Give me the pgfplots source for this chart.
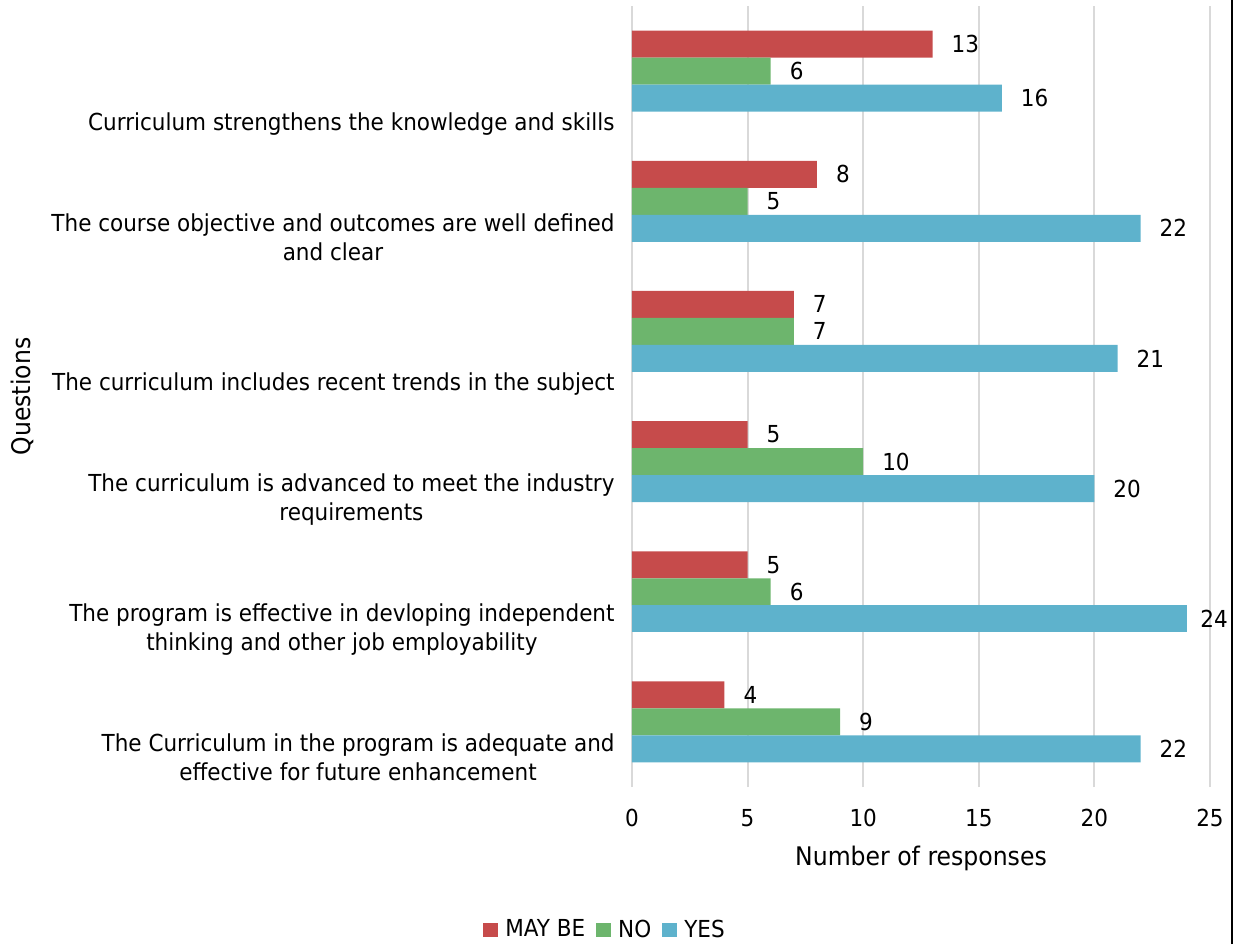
\documentclass[border=0pt]{standalone}
\usepackage{fontspec}
\setmainfont{DejaVu Sans}[FakeStretch=0.92]
\usepackage{pgfplots}
\pgfplotsset{compat=1.18}
\definecolor{cMay}{HTML}{C64B4B}
\definecolor{cNo}{HTML}{6DB56D}
\definecolor{cYes}{HTML}{5EB2CC}
\definecolor{gridc}{HTML}{D9D9D9}
\begin{document}
\begin{tikzpicture}
\begin{axis}[
  at={(0,0)}, anchor=south west,
  scale only axis, width=289pt, height=390.5pt,
  xmin=0, xmax=25, ymin=-0.5, ymax=5.5,
  xbar, bar width=13.5pt,
  xtick={0,5,10,15,20,25}, ytick={0,1,2,3,4,5},
  yticklabels={
    {The Curriculum in the program is adequate and\\effective for future enhancement},
    {The program is effective in devloping independent\\thinking and other job employability},
    {The curriculum is advanced to meet the industry\\requirements},
    {The curriculum includes recent trends in the subject},
    {The course objective and outcomes are well defined\\and clear},
    {Curriculum strengthens the knowledge and skills}},
  yticklabel style={align=center, anchor=base east, xshift=-5.2pt, yshift=-29.5pt},
  xticklabel style={anchor=center, yshift=-15.5pt},
  /pgf/number format/assume math mode=true,
  axis line style={draw=none},
  major tick length=0pt,
  xmajorgrids, grid style={gridc, line width=1pt},
  font=\fontsize{11.7}{14.6}\selectfont,
  xlabel={Number of responses},
  xlabel style={at={(axis description cs:0.5,-0.0909)}, anchor=center, font=\fontsize{12.8}{15}\selectfont},
  ylabel={Questions},
  ylabel style={at={(axis description cs:-1.055,0.5)}, anchor=center, font=\fontsize{12.8}{15}\selectfont},
  nodes near coords,
  nodes near coords style={anchor=west, xshift=6pt, text=black},
  every node near coord/.append style={/pgf/number format/assume math mode=true},
  legend columns=-1,
  legend style={draw=none, at={(axis description cs:-0.045,-0.183)}, anchor=center,
    font=\fontsize{11.7}{14}\selectfont,
    /tikz/every odd column/.append style={column sep=1.5pt},
    /tikz/every even column/.append style={column sep=3.5pt}},
  legend image code/.code={\fill[#1] (0pt,-3.3pt) rectangle (7.5pt,3.3pt);},
]
\addplot[draw=none, fill=cMay, bar shift=13.5pt] coordinates {(4,0) (5,1) (5,2) (7,3) (8,4) (13,5)};
\addplot[draw=none, fill=cNo, bar shift=0pt] coordinates {(9,0) (6,1) (10,2) (7,3) (5,4) (6,5)};
\addplot[draw=none, fill=cYes, bar shift=-13.5pt] coordinates {(22,0) (20,2) (21,3) (22,4) (16,5)};
\addplot[draw=none, fill=cYes, bar shift=-13.5pt, forget plot,
  nodes near coords style={xshift=-2.8pt}] coordinates {(24,1)};
\legend{MAY BE, NO, YES}
\end{axis}
\pgfresetboundingbox
\path[use as bounding box] (-316pt,-78.5pt) rectangle (304pt,393.5pt);
\draw[black, line width=1.2pt] (300pt,-78.5pt) -- (300pt,393.5pt);
\end{tikzpicture}
\end{document}
